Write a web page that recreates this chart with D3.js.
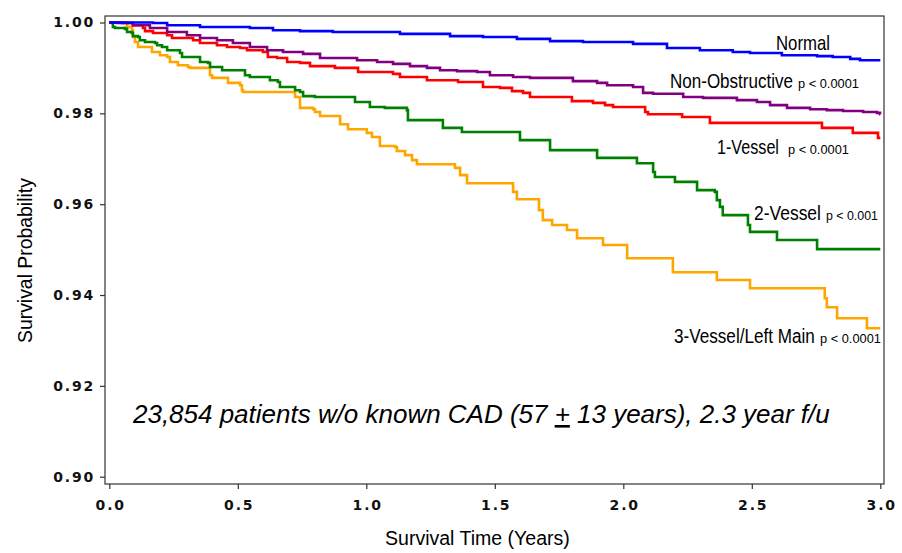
<!DOCTYPE html>
<html>
<head>
<meta charset="utf-8">
<script src="https://cdn.jsdelivr.net/npm/d3@7"></script>
<style>
  body { margin: 0; background: #fff; }
  .tick text { font-family: "DejaVu Sans", Verdana, sans-serif; font-weight: bold; font-size: 14px; letter-spacing: 1.8px; fill: #111; }
</style>
</head>
<body>
<div class="container"></div>
<script>
// survival curves, each point = [time in years, survival from that time on]
var normal = [[0,1],[0.170,0.9999],[0.225,0.9994],[0.353,0.9990],[0.547,0.9988],[0.637,0.9983],[0.742,0.9981],
  [0.870,0.9979],[1.131,0.9975],[1.326,0.9970],[1.454,0.9968],[1.586,0.9964],[1.715,0.9959],[1.843,0.9957],
  [2.038,0.9953],[2.170,0.9944],[2.298,0.9939],[2.426,0.9935],[2.493,0.9933],[2.617,0.9928],[2.754,0.9926],
  [2.815,0.9924],[2.883,0.9920],[2.921,0.9917],[3.0,0.9917]];

var nonObstructive = [[0,1],[0.030,0.9999],[0.092,0.9994],[0.158,0.9988],[0.225,0.9979],[0.302,0.9972],[0.353,0.9966],
  [0.419,0.9961],[0.481,0.9955],[0.547,0.9946],[0.614,0.9939],[0.676,0.9935],[0.754,0.9931],[0.820,0.9922],
  [0.964,0.9917],[1.042,0.9913],[1.104,0.9909],[1.170,0.9904],[1.236,0.9900],[1.287,0.9895],[1.353,0.9893],
  [1.431,0.9891],[1.481,0.9884],[1.571,0.9880],[1.637,0.9878],[1.804,0.9871],[1.898,0.9867],[1.937,0.9862],
  [2.038,0.9858],[2.077,0.9845],[2.116,0.9843],[2.233,0.9836],[2.310,0.9834],[2.442,0.9829],[2.520,0.9825],
  [2.571,0.9818],[2.637,0.9812],[2.727,0.9809],[2.792,0.9807],[2.855,0.9805],[2.933,0.9803],[2.987,0.9801],
  [2.999,0.9798],[3.0,0.9798]];

var oneVessel = [[0,1],[0.049,0.9999],[0.092,0.9994],[0.131,0.9988],[0.139,0.9981],[0.170,0.9977],[0.225,0.9972],
  [0.244,0.9966],[0.326,0.9961],[0.353,0.9955],[0.419,0.9950],[0.458,0.9946],[0.509,0.9944],[0.536,0.9939],
  [0.598,0.9935],[0.617,0.9924],[0.653,0.9922],[0.692,0.9913],[0.742,0.9911],[0.781,0.9904],[0.878,0.9900],
  [0.968,0.9891],[1.104,0.9887],[1.131,0.9880],[1.236,0.9873],[1.357,0.9869],[1.454,0.9858],[1.520,0.9856],
  [1.567,0.9849],[1.610,0.9845],[1.637,0.9836],[1.800,0.9827],[1.882,0.9823],[1.929,0.9818],[1.960,0.9814],
  [2.085,0.9803],[2.096,0.9798],[2.229,0.9792],[2.337,0.9779],[2.773,0.9768],[2.893,0.9757],[2.991,0.9746],
  [3.0,0.9746]];

var twoVessel = [[0,1],[0.011,0.9999],[0.014,0.9990],[0.022,0.9988],[0.061,0.9986],[0.069,0.9979],[0.088,0.9977],
  [0.092,0.9970],[0.112,0.9968],[0.119,0.9961],[0.139,0.9957],[0.178,0.9955],[0.186,0.9950],[0.205,0.9946],
  [0.225,0.9939],[0.275,0.9933],[0.283,0.9924],[0.353,0.9913],[0.384,0.9911],[0.392,0.9902],[0.439,0.9895],
  [0.528,0.9884],[0.547,0.9880],[0.625,0.9873],[0.656,0.9869],[0.664,0.9858],[0.723,0.9851],[0.742,0.9847],
  [0.754,0.9838],[0.800,0.9836],[0.956,0.9825],[1.014,0.9814],[1.072,0.9812],[1.158,0.9807],[1.162,0.9785],
  [1.298,0.9768],[1.372,0.9759],[1.598,0.9741],[1.715,0.9719],[1.898,0.9702],[2.053,0.9690],[2.116,0.9671],
  [2.123,0.9660],[2.201,0.9649],[2.287,0.9631],[2.356,0.9627],[2.364,0.9609],[2.376,0.9594],[2.387,0.9576],
  [2.485,0.9554],[2.493,0.9539],[2.598,0.9521],[2.754,0.9501],[3.0,0.9501]];

var threeVessel = [[0,1],[0.069,0.9990],[0.088,0.9983],[0.092,0.9968],[0.100,0.9957],[0.112,0.9946],[0.166,0.9935],
  [0.197,0.9928],[0.225,0.9924],[0.236,0.9913],[0.267,0.9906],[0.306,0.9902],[0.314,0.9900],[0.392,0.9884],
  [0.400,0.9878],[0.462,0.9867],[0.509,0.9862],[0.516,0.9851],[0.520,0.9847],[0.723,0.9836],[0.742,0.9812],
  [0.793,0.9809],[0.800,0.9803],[0.820,0.9794],[0.898,0.9776],[0.929,0.9765],[1.002,0.9757],[1.022,0.9748],
  [1.053,0.9728],[1.112,0.9726],[1.119,0.9717],[1.151,0.9708],[1.178,0.9697],[1.197,0.9688],[1.345,0.9680],
  [1.365,0.9664],[1.392,0.9646],[1.571,0.9627],[1.586,0.9611],[1.672,0.9587],[1.687,0.9565],[1.723,0.9554],
  [1.781,0.9543],[1.820,0.9525],[1.921,0.9510],[2.015,0.9481],[2.193,0.9450],[2.364,0.9433],[2.493,0.9415],
  [2.784,0.9393],[2.792,0.9373],[2.832,0.9349],[2.948,0.9327],[3.0,0.9327]];

var seriesNames = ["Normal", "Non-Obstructive", "1-Vessel", "2-Vessel", "3-Vessel/Left Main"];
var pValues = ["", "p < 0.0001", "p < 0.0001", "p < 0.001", "p < 0.0001"];
var xTicks = [0, 0.5, 1.0, 1.5, 2.0, 2.5, 3.0];
var yTicks = [0.90, 0.92, 0.94, 0.96, 0.98, 1.00];

var W = 902, H = 553;
var narrow = "'Liberation Sans Narrow', 'Arial Narrow', 'Liberation Sans', Arial, sans-serif";

//Makes the stage
function makeStage(w, h) {
    var stage = d3.select(".container")
      .append("svg")
      .attr("width", w)
      .attr("height", h)
      .style("display", "block")
      .style("background-color", "#fff");
    return stage;
}

var stage = makeStage(W, H);

//squeeze a text sideways so it is as wide as the original
function fitText(txt, x0, base, width, angle) {
    var natural = txt.node().getComputedTextLength();
    var sx = width / natural;
    txt.attr("x", 0).attr("y", 0)
       .attr("transform", "translate(" + x0 + "," + base + ") rotate(" + (angle || 0) + ") scale(" + sx + ",1)");
    return txt;
}

var x = d3.scaleLinear().domain([0, 3]).range([109.3, 880.3]);
var y = d3.scaleLinear().domain([0.90, 1.00]).range([476.7, 22.5]);

// frame round the plot
stage.append("rect")
  .attr("x", 105).attr("y", 16)
  .attr("width", 779).attr("height", 468)
  .attr("fill", "none")
  .attr("stroke", "#333")
  .attr("stroke-width", 1.2);

// axes
var yAxis = stage.append("g")
  .attr("transform", "translate(105,0)")
  .call(d3.axisLeft(y).tickValues(yTicks).tickFormat(d3.format(".2f")).tickSize(5).tickSizeOuter(0).tickPadding(5));
yAxis.select(".domain").remove();

var xAxis = stage.append("g")
  .attr("transform", "translate(0,484)")
  .call(d3.axisBottom(x).tickValues(xTicks).tickFormat(d3.format(".1f")).tickSize(5).tickSizeOuter(0).tickPadding(11));
xAxis.select(".domain").remove();
xAxis.selectAll(".tick text").attr("dx", "0.9px");
stage.selectAll(".tick line").attr("stroke", "#333").attr("stroke-width", 1.2);

// curves
var line = d3.line()
  .x(function (d) { return x(d[0]); })
  .y(function (d) { return y(d[1]); })
  .curve(d3.curveStepAfter);

var curves = [
  {data: normal, color: "#0000ff"},
  {data: nonObstructive, color: "#800080"},
  {data: oneVessel, color: "#ff0000"},
  {data: twoVessel, color: "#008000"},
  {data: threeVessel, color: "#ffa500"}
];
// draw the lowest first so the upper lines sit on top
curves.slice().reverse().forEach(function (c) {
  stage.append("path")
    .datum(c.data)
    .attr("d", line)
    .attr("fill", "none")
    .attr("stroke", c.color)
    .attr("stroke-width", 2.6)
    .attr("stroke-linejoin", "miter");
});

// curve labels
function drawLabel(name, p, x0, base, nameLen, px0, pLen) {
  var t = stage.append("text").text(name)
    .attr("font-family", narrow)
    .attr("font-size", 20)
    .attr("fill", "#000");
  fitText(t, x0, base, nameLen);
  if (p !== "") {
    var tp = stage.append("text").text(p)
      .attr("font-family", narrow)
      .attr("font-size", 13)
      .attr("fill", "#000");
    fitText(tp, px0, base, pLen);
  }
}
drawLabel(seriesNames[0], pValues[0], 776, 50, 54, 0, 0);
drawLabel(seriesNames[1], pValues[1], 670, 88, 123, 798, 61);
drawLabel(seriesNames[2], pValues[2], 717, 154, 62, 788, 61);
drawLabel(seriesNames[3], pValues[3], 754, 220, 67, 826, 52);
drawLabel(seriesNames[4], pValues[4], 674, 343, 141, 820, 61);

// cohort note
var note = stage.append("text")
  .attr("font-family", "'Liberation Sans', Arial, sans-serif")
  .attr("font-style", "italic")
  .attr("font-size", 26)
  .attr("fill", "#000");
note.append("tspan").text("23,854 patients w/o known CAD (57 ");
note.append("tspan").text("+").attr("text-decoration", "underline");
note.append("tspan").text(" 13 years), 2.3 year f/u");
fitText(note, 133, 423, 697);

// axis titles
var xTitle = stage.append("text").text("Survival Time (Years)")
  .attr("font-family", narrow)
  .attr("font-size", 21)
  .attr("fill", "#000");
fitText(xTitle, 385, 545, 185);

var yTitle = stage.append("text").text("Survival Probability")
  .attr("font-family", narrow)
  .attr("font-size", 21)
  .attr("fill", "#000");
fitText(yTitle, 32, 343, 165, -90);
</script>
</body>
</html>
